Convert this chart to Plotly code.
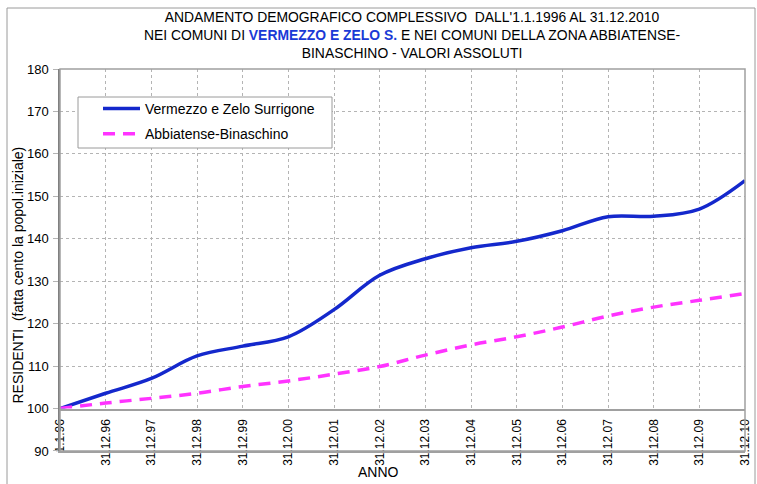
import plotly.graph_objects as go

labels = ['1.1.96', '31.12.96', '31.12.97', '31.12.98', '31.12.99', '31.12.00',
          '31.12.01', '31.12.02', '31.12.03', '31.12.04', '31.12.05', '31.12.06',
          '31.12.07', '31.12.08', '31.12.09', '31.12.10']
vermezzo = [100, 103.6, 107.1, 112.4, 114.7, 116.9, 123.3, 131.4, 135.3, 137.9,
            139.4, 141.9, 145.2, 145.3, 147.0, 153.7]
abbiatense = [100, 101.3, 102.4, 103.6, 105.2, 106.5, 108.1, 109.9, 112.6, 115.0,
              116.9, 119.2, 121.8, 123.9, 125.5, 127.1]
y_ticks_main = [100, 110, 120, 130, 140, 150, 160, 170, 180]
y_ticks_low = [90]
y_min, y_axis_cross, y_max = 90, 100, 180

FONT = "Liberation Sans"
GRID = "#b4b4b4"
FRAME = "#a0a0a0"

W, H = 757, 484
L, R, T, B = 60, 12, 69, 33
pw, ph = W - L - R, H - T - B
split = (y_axis_cross - y_min) / (y_max - y_min)


def px_x(p):
    return (p - L) / pw


def px_y(p):
    return (H - B - p) / ph


fig = go.Figure()
fig.add_trace(go.Scatter(
    x=labels, y=vermezzo, mode="lines", name="Vermezzo e Zelo Surrigone",
    line=dict(color="#1428cc", width=3.5, shape="spline", smoothing=1.0),
    legendgroup="a"))
fig.add_trace(go.Scatter(
    x=labels, y=abbiatense, mode="lines", name="Abbiatense-Binaschino",
    line=dict(color="#ff33ff", width=3.5, dash="12px,8px", shape="spline", smoothing=1.0),
    legendgroup="b"))
# empty trace that creates the lower strip (90-100) below the category axis
fig.add_trace(go.Scatter(x=[], y=[], xaxis="x2", yaxis="y2", showlegend=False,
                         hoverinfo="skip", mode="lines"))

fig.update_layout(
    width=W, height=H,
    margin=dict(l=L, r=R, t=T, b=B, pad=0),
    paper_bgcolor="white", plot_bgcolor="white",
    font=dict(family=FONT, size=13, color="black"),
    title=dict(
        text=("ANDAMENTO DEMOGRAFICO COMPLESSIVO  DALL'1.1.1996 AL 31.12.2010<br>"
              "NEI COMUNI DI <span style='color:#1a3ad6'><b>VERMEZZO E ZELO S.</b></span>"
              " E NEI COMUNI DELLA ZONA ABBIATENSE-<br>"
              "BINASCHINO - VALORI ASSOLUTI"),
        font=dict(family=FONT, size=13.9, color="black"),
        xref="paper", x=px_x(412), xanchor="center",
        yref="container", y=1 - 22 / H, yanchor="top"),
    showlegend=True,
    legend=dict(
        x=px_x(98), y=px_y(93), xanchor="left", yanchor="top",
        bgcolor="rgba(0,0,0,0)", borderwidth=0,
        font=dict(family=FONT, size=14, color="black"),
        itemwidth=37,
        tracegroupgap=4, traceorder="grouped"),
    xaxis=dict(
        type="category", range=[0, len(labels) - 1], domain=[0, 1],
        anchor="y", automargin=False,
        showline=True, linecolor=FRAME, linewidth=1.5,
        showgrid=True, gridcolor=GRID, griddash="dot", gridwidth=1,
        tickangle=-90, tickfont=dict(family=FONT, size=12, color="black"),
        ticks="", ticklabelstandoff=4,
        zeroline=False),
    yaxis=dict(
        range=[y_axis_cross, y_max], tickvals=y_ticks_main, domain=[split, 1],
        anchor="x", automargin=False,
        showline=True, linecolor="#808080", linewidth=1.5,
        showgrid=True, gridcolor=GRID, griddash="dot", gridwidth=1,
        ticks="outside", ticklen=5, tickcolor=GRID, ticklabelstandoff=2,
        tickfont=dict(family=FONT, size=13, color="black"),
        zeroline=False),
    xaxis2=dict(
        type="category", range=[0, len(labels) - 1], domain=[0, 1],
        anchor="y2", automargin=False,
        showline=True, linecolor=FRAME, linewidth=1.5,
        showgrid=False, showticklabels=False, ticks="", zeroline=False),
    yaxis2=dict(
        range=[y_min, y_axis_cross], tickvals=y_ticks_low, domain=[0, split],
        anchor="x2", automargin=False,
        showline=True, linecolor="#808080", linewidth=1.5,
        showgrid=False, ticks="outside", ticklen=5, tickcolor=GRID,
        ticklabelstandoff=2,
        tickfont=dict(family=FONT, size=13, color="black"), zeroline=False),
    annotations=[
        dict(text="ANNO", xref="paper", yref="paper", x=px_x(378), y=px_y(472),
             xanchor="center", yanchor="middle", showarrow=False,
             font=dict(family=FONT, size=14, color="black")),
        dict(text="RESIDENTI  (fatta cento la popol.iniziale)", textangle=-90,
             xref="paper", yref="paper", x=px_x(17.5), y=px_y(275),
             xanchor="center", yanchor="middle", showarrow=False,
             font=dict(family=FONT, size=14, color="black")),
    ],
    shapes=[
        # legend box
        dict(type="rect", xref="paper", yref="paper",
             x0=px_x(78), x1=px_x(332), y0=px_y(148), y1=px_y(97),
             fillcolor="white", line=dict(color="#9a9a9a", width=1), layer="above"),
        # plot frame
        dict(type="rect", xref="paper", yref="paper", x0=0, x1=1, y0=0, y1=1,
             line=dict(color=FRAME, width=1.5), layer="above"),
        # outer chart frame
        dict(type="rect", xref="paper", yref="paper",
             x0=px_x(7), x1=px_x(755), y0=px_y(495), y1=px_y(8),
             line=dict(color="#9a9a9a", width=1), layer="above"),
    ],
)

fig.write_html("out.html", config={"displayModeBar": False},
               post_script="document.body.style.margin='0';")
